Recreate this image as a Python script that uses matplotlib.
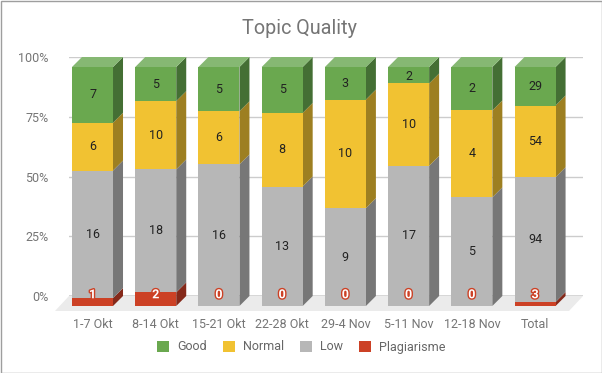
import numpy as np
import matplotlib
matplotlib.use("Agg")
import matplotlib.pyplot as plt
from matplotlib.patches import Polygon, Patch, Rectangle
import matplotlib.patheffects as pe

plt.rcParams['font.family'] = ['Roboto', 'DejaVu Sans']

categories = ["1-7 Okt", "8-14 Okt", "15-21 Okt", "22-28 Okt", "29-4 Nov", "5-11 Nov", "12-18 Nov", "Total"]
plagiarisme = [1, 2, 0, 0, 0, 0, 0, 3]
low = [16, 18, 16, 13, 9, 17, 5, 94]
normal = [6, 10, 6, 8, 10, 10, 4, 54]
good = [7, 5, 5, 5, 3, 2, 2, 29]
series_names = ["Plagiarisme", "Low", "Normal", "Good"]
yticks = [0, 25, 50, 75, 100]
ytick_labels = ["0%", "25%", "50%", "75%", "100%"]

front_colors = ["#cc4125", "#b7b7b7", "#f1c232", "#6aa84f"]
side_colors = ["#85291a", "#777777", "#9d7f21", "#446f34"]
top_color = "#86b873"

W, H, DPI = 602, 373, 100
fig = plt.figure(figsize=(W / DPI, H / DPI), dpi=DPI)
ax_l, ax_r, ax_t, ax_b = 69, 583, 57, 296
ax = fig.add_axes([ax_l / W, (H - ax_b) / H, (ax_r - ax_l) / W, (ax_b - ax_t) / H])
xmin, xmax = -0.53, 7.60
ax.set_xlim(xmin, xmax)
ax.set_ylim(0, 100)
for s in ax.spines.values():
    s.set_visible(False)

px_x = (ax_r - ax_l) / (xmax - xmin)
px_y = (ax_b - ax_t) / 100.0
depth = 10
dx = depth / px_x
dy = depth / px_y
fdx = 14 / px_x
fdy = 15 / px_y
bw = 41 / px_x

data = np.array([plagiarisme, low, normal, good], dtype=float)
totals = data.sum(axis=0)
pct = data / totals * 100
cum = np.vstack([np.zeros(len(categories)), np.cumsum(pct, axis=0)])
x = np.arange(len(categories))

# gridlines on back wall
for yt in yticks[1:]:
    ax.axhline(yt, color="#cccccc", lw=1, zorder=0)

# floor
floor = Polygon([(xmin, 0), (xmax, 0), (xmax - fdx, -fdy), (xmin - fdx, -fdy)],
                closed=True, facecolor="#ebebeb", edgecolor="none", clip_on=False, zorder=1)
ax.add_patch(floor)
ax.axhline(0, color="#333333", lw=1, zorder=2)

# bars
for k in range(4):
    ax.bar(x - dx, pct[k], bottom=cum[k] - dy, width=bw, color=front_colors[k],
           linewidth=0, clip_on=False, zorder=4)
    for i in range(len(categories)):
        if pct[k, i] <= 0:
            continue
        xr = x[i] + bw / 2
        y0, y1 = cum[k, i], cum[k + 1, i]
        side = Polygon([(xr - dx, y0 - dy), (xr, y0), (xr, y1), (xr - dx, y1 - dy)],
                       closed=True, facecolor=side_colors[k], edgecolor="none",
                       clip_on=False, zorder=3)
        ax.add_patch(side)

for i in range(len(categories)):
    xl, xr = x[i] - bw / 2, x[i] + bw / 2
    top = cum[-1, i]
    tp = Polygon([(xl - dx, top - dy), (xl, top), (xr, top), (xr - dx, top - dy)],
                 closed=True, facecolor=top_color, edgecolor="none", clip_on=False, zorder=3)
    ax.add_patch(tp)

# data labels
for k in range(4):
    for i in range(len(categories)):
        val = int(data[k, i])
        if k == 0:
            yl = 4.7
            ax.text(x[i] - dx, yl - dy, str(val), ha="center", va="center", fontsize=9,
                    fontweight="bold", color="white", zorder=6, clip_on=False,
                    path_effects=[pe.Stroke(linewidth=2, foreground="#cc4125"), pe.Normal()])
        else:
            yc = (cum[k, i] + cum[k + 1, i]) / 2
            if k == 3:
                yc = min(yc, 96)
            ax.text(x[i] - dx, yc - dy, str(val), ha="center", va="center", fontsize=9,
                    color="#222222", zorder=6)

ax.set_yticks(yticks)
ax.set_yticklabels(ytick_labels)
ax.set_xticks(x - dx)
ax.set_xticklabels(categories)
ax.tick_params(axis="y", length=0, pad=15, labelsize=9, labelcolor="#757575")
ax.tick_params(axis="x", length=0, pad=16, labelsize=9, labelcolor="#757575")

fig.text(300 / W, 1 - 28 / H, "Topic Quality", ha="center", va="center", fontsize=14.2, color="#757575")

handles = [Patch(facecolor=front_colors[k], edgecolor="none", label=series_names[k]) for k in [3, 2, 1, 0]]
leg = fig.legend(handles=handles, loc="center", bbox_to_anchor=(301 / W, 1 - 347 / H), ncol=4,
                 frameon=False, fontsize=9, handlelength=0.96, handleheight=0.96,
                 handletextpad=0.64, columnspacing=1.28)
for t in leg.get_texts():
    t.set_color("#666666")

fig.add_artist(Rectangle((0.5 / W, 0.5 / H), 1 - 1 / W, 1 - 1 / H, transform=fig.transFigure,
                         facecolor="none", edgecolor="#9e9e9e", lw=1))

fig.savefig("out.png", dpi=DPI)
